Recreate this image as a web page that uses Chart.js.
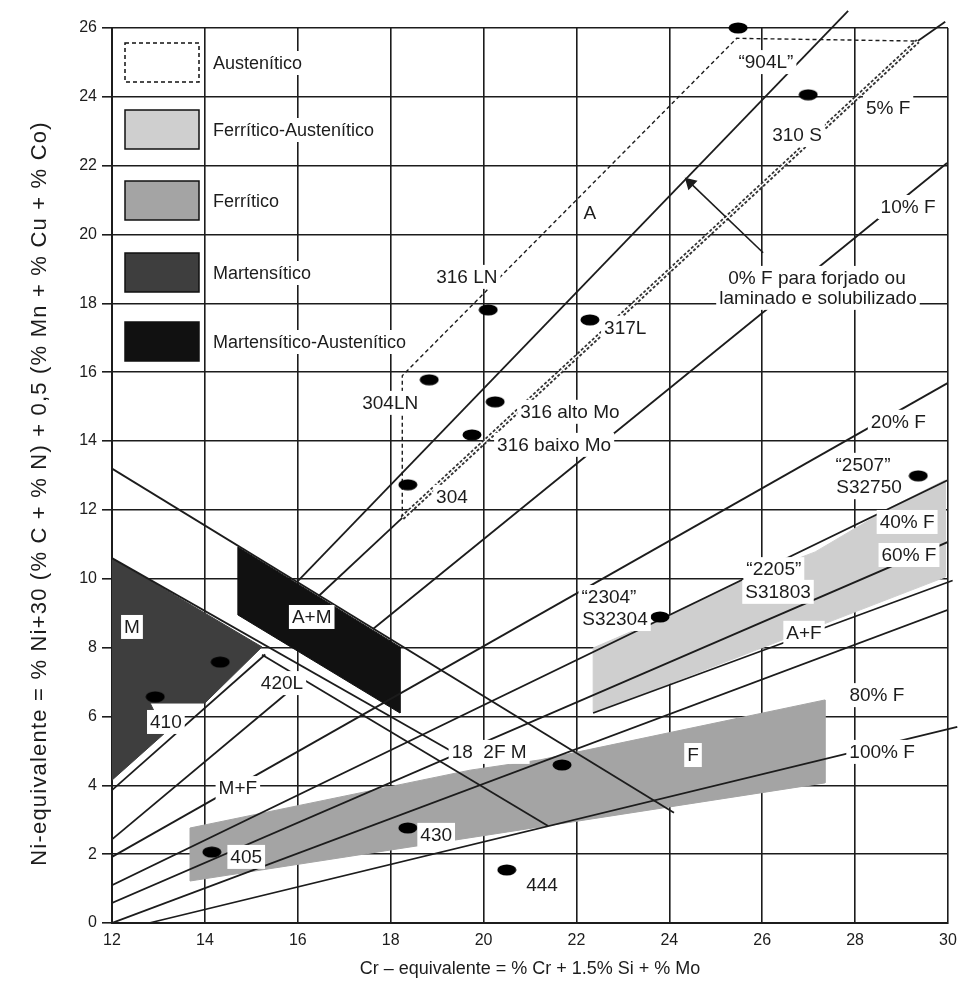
<!DOCTYPE html>
<html>
<head>
<meta charset="utf-8">
<title>Diagrama de Schaeffler</title>
<script src="https://cdn.jsdelivr.net/npm/chart.js@4.4.1/dist/chart.umd.min.js"></script>
<style>
  html, body { margin: 0; padding: 0; background: #fff; }
  #wrap { width: 966px; height: 999px; }
</style>
</head>
<body>
<div id="wrap"><canvas id="chart"></canvas></div>
<script>
const FONT = '"Liberation Sans", Arial, Helvetica, sans-serif';
const INK = '#1c1c1c';

// axes
const xTicks = [12, 14, 16, 18, 20, 22, 24, 26, 28, 30];
const yTicks = [0, 2, 4, 6, 8, 10, 12, 14, 16, 18, 20, 22, 24, 26];
const xTitle = 'Cr – equivalente = % Cr + 1.5% Si + % Mo';
const yTitle = 'Ni-equivalente = % Ni+30 (% C + % N) + 0,5 (% Mn + % Cu + % Co)';

// constitution zones (Cr eq, Ni eq)
const regionNames = ['Austenítico', 'Ferrítico-Austenítico', 'Ferrítico', 'Martensítico', 'Martensítico-Austenítico'];
const regionFill = ['#ffffff', '#cfcfcf', '#a4a4a4', '#3e3e3e', '#111111'];
const austeniticEdge = [[18.25, 11.77], [18.25, 15.9], [25.45, 25.7], [29.35, 25.62]];
const ferAusZone = [[22.36, 7.99], [23.91, 8.89], [25.57, 9.97], [27.14, 10.78], [28.75, 12.06], [29.94, 12.87], [29.94, 10.05], [22.36, 6.1]];
const ferZone = [[13.68, 2.76], [19.71, 4.44], [21.22, 4.74], [27.35, 6.48], [27.35, 4.07], [13.68, 1.22]];
const marZone = [[12, 10.6], [15.23, 8.02], [14.0, 6.39], [12.82, 6.39], [13.14, 5.52], [12, 4.15]];
const marAusZone = [[14.71, 10.92], [18.2, 8.02], [18.2, 6.1], [14.71, 8.95]];

// iso-ferrite lines
const ferrite0 = [[15.98, 9.9], [27.85, 26.5]];
const ferrite5Low = [[16.45, 9.5], [18.25, 11.77]];
const ferrite5 = [[18.25, 11.77], [29.35, 25.62]];
const ferrite5Top = [[29.35, 25.62], [29.94, 26.18]];
const ferrite10 = [[17.62, 8.54], [29.98, 22.08]];
const ferrite20 = [[12, 1.92], [30, 15.69]];
const ferrite40 = [[12, 1.1], [30, 12.87]];
const ferrite60 = [[12, 0.58], [30, 11.07]];
const austFerLine = [[22.36, 6.1], [30.1, 9.95]];
const ferrite80 = [[12, 0], [30, 9.1]];
const ferrite100 = [[12.8, 0], [30.2, 5.7]];

// martensite boundaries
const marLine1 = [[12, 3.86], [15.3, 7.8]];
const marLine2 = [[12, 2.43], [15.77, 6.68]];
const marTop = [[12, 13.2], [24.1, 3.2]];
const marMid = [[12, 10.6], [19.34, 4.97]];
const marLow = [[15.23, 7.79], [21.39, 2.82]];

// arrow to the 0% F line
const arrowPath = [[26.02, 19.47], [24.45, 21.5]];

// steels
const steelCr = [25.48, 26.99, 20.1, 22.29, 18.83, 20.25, 19.75, 18.37, 29.36, 23.8, 14.33, 12.93, 14.15, 18.37, 20.5, 21.69];
const steelNi = [26.0, 24.06, 17.81, 17.52, 15.78, 15.14, 14.18, 12.73, 12.99, 8.89, 7.58, 6.57, 2.06, 2.76, 1.54, 4.59];

// texts in the plot
const noteText = ['“904L”', '310 S', '5% F', 'A', '10% F', '316 LN', '0% F para forjado ou', 'laminado e solubilizado', '317L', '304LN',
  '316 alto Mo', '316 baixo Mo', '304', '20% F', '“2507”', 'S32750', '40% F', '60% F', '“2205”', 'S31803',
  '“2304”', 'S32304', 'A+F', 'A+M', 'M', '420L', '410', '80% F', '18  2F M', 'F',
  '100% F', 'M+F', '430', '405', '444'];
const noteCr = [26.08, 26.75, 28.71, 22.29, 29.14, 19.64, 27.18, 27.2, 23.05, 17.99,
  21.86, 21.52, 19.32, 28.93, 28.17, 28.3, 29.12, 29.16, 26.25, 26.34,
  22.7, 22.83, 26.9, 16.3, 12.43, 15.66, 13.16, 28.47, 20.12, 24.51,
  28.58, 14.71, 18.98, 14.89, 21.26];
const noteNi = [25.01, 22.89, 23.68, 20.63, 20.8, 18.77, 18.74, 18.16, 17.29, 15.11,
  14.85, 13.89, 12.38, 14.56, 13.31, 12.66, 11.65, 10.69, 10.28, 9.62,
  9.47, 8.83, 8.43, 8.89, 8.6, 6.97, 5.84, 6.62, 4.97, 4.88,
  4.97, 3.92, 2.56, 1.92, 1.1];

const toXY = pts => pts.map(([x, y]) => ({ x, y }));

function zone(label, pts, color) {
  return {
    label, data: toXY([...pts, pts[0]]), showLine: true, fill: 'shape',
    backgroundColor: color, borderColor: color, borderWidth: 1, pointRadius: 0, order: 5
  };
}

function line(label, pts, extra) {
  return Object.assign({
    label, data: toXY(pts), showLine: true, fill: false, borderColor: INK,
    borderWidth: 1.8, pointRadius: 0, order: 3
  }, extra || {});
}

function ellipseMarker() {
  const c = document.createElement('canvas');
  c.width = 20; c.height = 12;
  const g = c.getContext('2d');
  g.fillStyle = '#000';
  g.beginPath();
  g.ellipse(10, 6, 9.5, 5.5, 0, 0, Math.PI * 2);
  g.fill();
  return c;
}

const notesPlugin = {
  id: 'notes',
  afterDatasetsDraw(chart) {
    const { ctx, chartArea: a, scales: { x, y } } = chart;
    ctx.save();
    ctx.font = '19px ' + FONT;
    ctx.textAlign = 'center';
    ctx.textBaseline = 'middle';
    // white boxes first, so two-line notes do not hide each other
    noteText.forEach((t, i) => {
      const px = x.getPixelForValue(noteCr[i]);
      const py = y.getPixelForValue(noteNi[i]);
      const w = ctx.measureText(t).width;
      ctx.fillStyle = '#fff';
      ctx.fillRect(px - w / 2 - 3, py - 12, w + 6, 24);
    });
    ctx.fillStyle = INK;
    noteText.forEach((t, i) => {
      ctx.fillText(t, x.getPixelForValue(noteCr[i]), y.getPixelForValue(noteNi[i]) + 1);
    });

    // legend table in the top left corner
    const rowTops = [15, 82, 153, 225, 294];
    ctx.font = '18px ' + FONT;
    ctx.textAlign = 'left';
    regionNames.forEach((name, i) => {
      const left = a.left + 13;
      const top = a.top + rowTops[i];
      ctx.fillStyle = regionFill[i];
      ctx.fillRect(left, top, 74, 39);
      ctx.lineWidth = 1.5;
      ctx.strokeStyle = '#111';
      ctx.setLineDash(i === 0 ? [4, 3] : []);
      ctx.strokeRect(left, top, 74, 39);
      ctx.setLineDash([]);
      const w = ctx.measureText(name).width;
      ctx.fillStyle = '#fff';
      ctx.fillRect(left + 87, top + 8, w + 4, 24);
      ctx.fillStyle = INK;
      ctx.fillText(name, left + 88, top + 21);
    });
    ctx.restore();
  },
  afterDraw(chart) {
    // vertical axis title, drawn by hand to get the wider spacing of the original
    const { ctx, chartArea: a } = chart;
    ctx.save();
    ctx.translate(40, (a.top + a.bottom) / 2 + 18);
    ctx.rotate(-Math.PI / 2);
    ctx.font = '22px ' + FONT;
    if ('letterSpacing' in ctx) ctx.letterSpacing = '1.2px';
    ctx.fillStyle = INK;
    ctx.textAlign = 'center';
    ctx.textBaseline = 'middle';
    ctx.fillText(yTitle, 0, 0);
    ctx.restore();
  }
};

const datasets = [
  zone(regionNames[1], ferAusZone, regionFill[1]),
  zone(regionNames[2], ferZone, regionFill[2]),
  zone(regionNames[3], marZone, regionFill[3]),
  zone(regionNames[4], marAusZone, regionFill[4]),
  line('Austenítico', austeniticEdge, { borderWidth: 1.4, borderDash: [4, 3] }),
  line('0% F', ferrite0, { clip: false }),
  line('5% F baixo', ferrite5Low),
  line('5% F', ferrite5, { borderWidth: 5, borderDash: [3, 2], borderColor: '#333' }),
  line('5% F centro', ferrite5, { borderWidth: 1.4, borderColor: '#fff', order: 2 }),
  line('5% F topo', ferrite5Top, { clip: false }),
  line('10% F', ferrite10),
  line('20% F', ferrite20),
  line('40% F', ferrite40),
  line('60% F', ferrite60),
  line('A+F', austFerLine, { clip: false }),
  line('80% F', ferrite80),
  line('100% F', ferrite100, { clip: false }),
  line('M 1', marLine1),
  line('M 2', marLine2),
  line('M topo', marTop),
  line('M meio', marMid),
  line('M baixo', marLow),
  {
    label: 'seta', data: toXY(arrowPath), showLine: true, borderColor: INK, borderWidth: 1.6,
    pointRadius: [0, 6], pointStyle: 'triangle', rotation: [0, -46],
    pointBackgroundColor: INK, pointBorderColor: INK, order: 2
  },
  {
    label: 'aços', data: steelCr.map((c, i) => ({ x: c, y: steelNi[i] })), showLine: false,
    pointStyle: ellipseMarker(), pointRadius: 8, order: 1, clip: false
  }
];

new Chart(document.getElementById('chart'), {
  type: 'scatter',
  data: { datasets },
  options: {
    responsive: true,
    maintainAspectRatio: false,
    animation: false,
    events: [],
    layout: { padding: { top: 28, right: 18, left: 0, bottom: 0 } },
    plugins: { legend: { display: false }, tooltip: { enabled: false } },
    scales: {
      x: {
        type: 'linear',
        min: xTicks[0],
        max: xTicks[xTicks.length - 1],
        afterFit(s) { s.height = 76; },
        ticks: { stepSize: xTicks[1] - xTicks[0], color: INK, font: { family: FONT, size: 16 }, padding: 8 },
        grid: { color: INK, lineWidth: 1.6, drawTicks: false },
        border: { color: INK, width: 2 },
        title: {
          display: true, text: xTitle,
          color: INK, font: { family: FONT, size: 18 }, padding: { bottom: 19 }
        }
      },
      y: {
        type: 'linear',
        min: yTicks[0],
        max: yTicks[yTicks.length - 1],
        afterFit(s) { s.width = 112; },
        ticks: { stepSize: yTicks[1] - yTicks[0], color: INK, font: { family: FONT, size: 16 }, padding: 5 },
        grid: { color: INK, lineWidth: 1.6, tickLength: 10 },
        border: { color: INK, width: 2 },
        title: { display: false }
      }
    }
  },
  plugins: [notesPlugin]
});
</script>
</body>
</html>
